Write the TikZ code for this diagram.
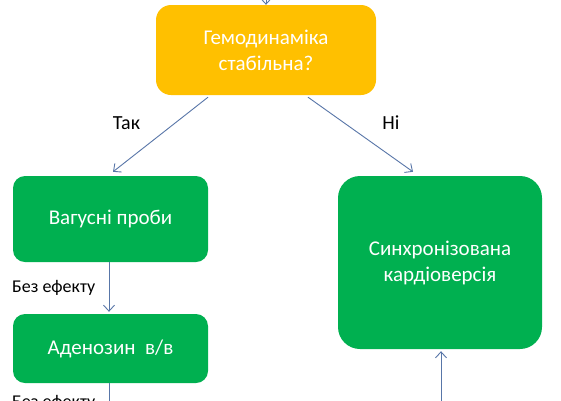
\documentclass[tikz,border=0pt]{standalone}
\usepackage{fontspec}
\setmainfont{Carlito}
\usetikzlibrary{arrows.meta}
\definecolor{yel}{HTML}{FFC000}
\definecolor{grn}{HTML}{00B050}
\definecolor{arrc}{RGB}{88,118,168}
\tikzset{
  boxtext/.style={text=white, align=center, font=\fontsize{21}{26}\selectfont, inner sep=0pt},
  ybox/.style={boxtext, fill=yel, rounded corners=15pt},
  gbox/.style={boxtext, fill=grn, rounded corners=12pt},
  arr/.style={draw=arrc, line width=0.9pt, -{Straight Barb[length=6pt,width=11pt,line width=0.9pt]}},
  ln/.style={draw=arrc, line width=0.9pt},
  lbl/.style={font=\fontsize{18}{20}\selectfont, text=black, inner sep=0pt},
  biglbl/.style={font=\fontsize{20}{22}\selectfont, text=black, inner sep=0pt}
}
\begin{document}
\begin{tikzpicture}[x=1pt,y=-1pt]
\useasboundingbox (0,0) rectangle (561,400);
\clip (0,0) rectangle (561,400);
\fill[white] (0,0) rectangle (561,400);
\node[ybox, minimum width=220pt, minimum height=90pt] (hem) at (266,50) {Гемодинаміка\\стабільна?};
\node[gbox, minimum width=195pt, minimum height=86pt] (vag) at (110.5,219) {Вагусні проби};
\node[gbox, minimum width=195pt, minimum height=69pt] (aden) at (110.5,348.5) {Аденозин\ \ в/в};
\node[gbox, rounded corners=22pt, minimum width=204pt, minimum height=173pt] (kard) at (440,262.5) {Синхронізована\\кардіоверсія};
\coordinate (topin) at (266,-30);
\coordinate (botout) at (109,430);
\coordinate (botin) at (441,430);
\draw[arr] (topin) -- (hem.north);
\draw[arr] ([xshift=-58pt,yshift=-2pt]hem.south) -- ([xshift=2.5pt,yshift=4pt]vag.north);
\draw[arr] ([xshift=42pt,yshift=-2pt]hem.south) -- ([xshift=-27pt,yshift=4pt]kard.north);
\draw[arr] ([xshift=-1.5pt]vag.south) -- ([xshift=-1.5pt,yshift=2pt]aden.north);
\draw[ln] ([xshift=-1.5pt]aden.south) -- (botout);
\draw[arr] (botin) -- ([xshift=1pt,yshift=-2pt]kard.south);
\node[biglbl] (tak) at (126.5,123) {Так};
\node[biglbl] (ni) at (391,123) {Ні};
\node[lbl, anchor=west] (bez1) at (12,288) {Без ефекту};
\node[lbl, anchor=west] (bez2) at (12,403) {Без ефекту};
\end{tikzpicture}
\end{document}
